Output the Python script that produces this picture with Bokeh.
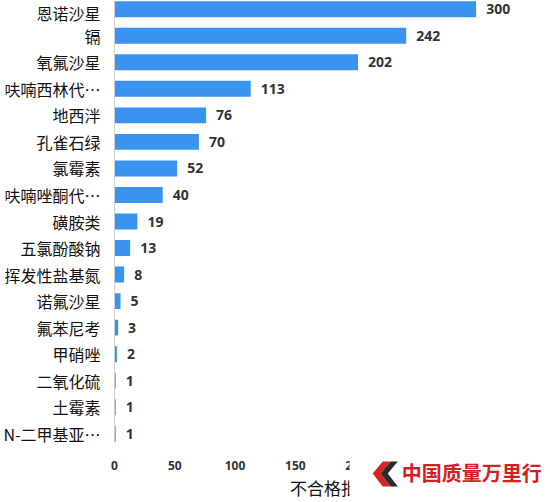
from bokeh.plotting import figure
from bokeh.layouts import column
from bokeh.models import FactorRange, Range1d, ColumnDataSource
from bokeh.core.properties import value
from bokeh.embed import file_html
from bokeh.resources import INLINE

# Unqualified batches by item
categories = ["恩诺沙星", "镉", "氧氟沙星", "呋喃西林代…", "地西泮", "孔雀石绿", "氯霉素",
              "呋喃唑酮代…", "磺胺类", "五氯酚酸钠", "挥发性盐基氮", "诺氟沙星", "氟苯尼考",
              "甲硝唑", "二氧化硫", "土霉素", "N-二甲基亚…"]
counts = [300, 242, 202, 113, 76, 70, 52, 40, 19, 13, 8, 5, 3, 2, 1, 1, 1]
x_ticks = [0, 50, 100, 150, 200, 250, 300, 350]
x_title = "不合格批次"
badge_text = "中国质量万里行"

CJK = "Noto Sans CJK SC"
BAR = "#3993ef"
W, H = 550, 502
FRAME_LEFT = 116

source = ColumnDataSource(dict(
    cat=categories,
    n=counts,
    label=[str(v) for v in counts],
))

p = figure(
    width=W, height=H,
    y_range=FactorRange(factors=categories[::-1], range_padding=-0.171,
                        range_padding_units="absolute"),
    x_range=Range1d(0, 361.7),
    output_backend="svg", toolbar_location=None,
    min_border_left=8, min_border_right=0, min_border_top=0, min_border_bottom=0,
)
p.outline_line_color = None
p.grid.visible = False
p.background_fill_color = "white"

p.hbar(y="cat", right="n", left=0, height=0.6, source=source,
       fill_color=BAR, line_color=None)

p.text(x="n", y="cat", text="label", source=source, x_offset=10,
       text_baseline="middle", text_align="left",
       text_font=value("Open Sans"), text_font_size="14px",
       text_font_style="bold", text_color="#333333")

# category axis
ya = p.yaxis[0]
ya.axis_line_color = "#cfcfcf"
ya.major_tick_line_color = None
ya.minor_tick_line_color = None
ya.major_tick_out = 0
ya.major_label_standoff = 14
ya.major_label_text_font = CJK
ya.major_label_text_font_size = "16px"
ya.major_label_text_color = "#111111"

# value axis
xa = p.xaxis[0]
xa.ticker = x_ticks
xa.axis_line_color = None
xa.major_tick_line_color = None
xa.minor_tick_line_color = None
xa.major_tick_out = 0
xa.major_label_standoff = 18
xa.major_label_text_font = "Open Sans"
xa.major_label_text_font_style = "bold"
xa.major_label_text_font_size = "12px"
xa.major_label_text_color = "#333333"
xa.axis_label = x_title
xa.axis_label_standoff = 2
xa.axis_label_text_font = CJK
xa.axis_label_text_font_style = "normal"
xa.axis_label_text_font_size = "17px"
xa.axis_label_text_color = "#111111"

# corner badge: a transparent strip laid over the bottom of the chart,
# its frame shares the chart's horizontal extent and uses pixel coordinates
badge = figure(
    width=W, height=60, x_range=Range1d(FRAME_LEFT, W), y_range=Range1d(H, H - 60),
    x_axis_type=None, y_axis_type=None, output_backend="svg", toolbar_location=None,
    min_border=0, margin=(-60, 0, 0, 0),
)
badge.outline_line_color = None
badge.grid.visible = False
badge.background_fill_alpha = 0
badge.border_fill_alpha = 0
badge.quad(left=[350], right=[W], top=[442], bottom=[H],
           fill_color="white", line_color=None)
badge.patch([373, 383, 391, 381, 391, 383], [473, 461, 461, 473, 486, 486],
            fill_color="#d42424", line_color=None)
badge.patch([381, 391, 398, 388, 398, 391], [473, 461, 461, 473, 486, 486],
            fill_color="#2b2b2b", line_color=None)
badge.text(x=[402], y=[472], text=[badge_text], text_baseline="middle", text_align="left",
           text_font=value(CJK), text_font_size="20px", text_font_style="bold",
           text_color="#d42020")

layout = column(p, badge, spacing=0)
open("out.html", "w").write(file_html(layout, INLINE))
